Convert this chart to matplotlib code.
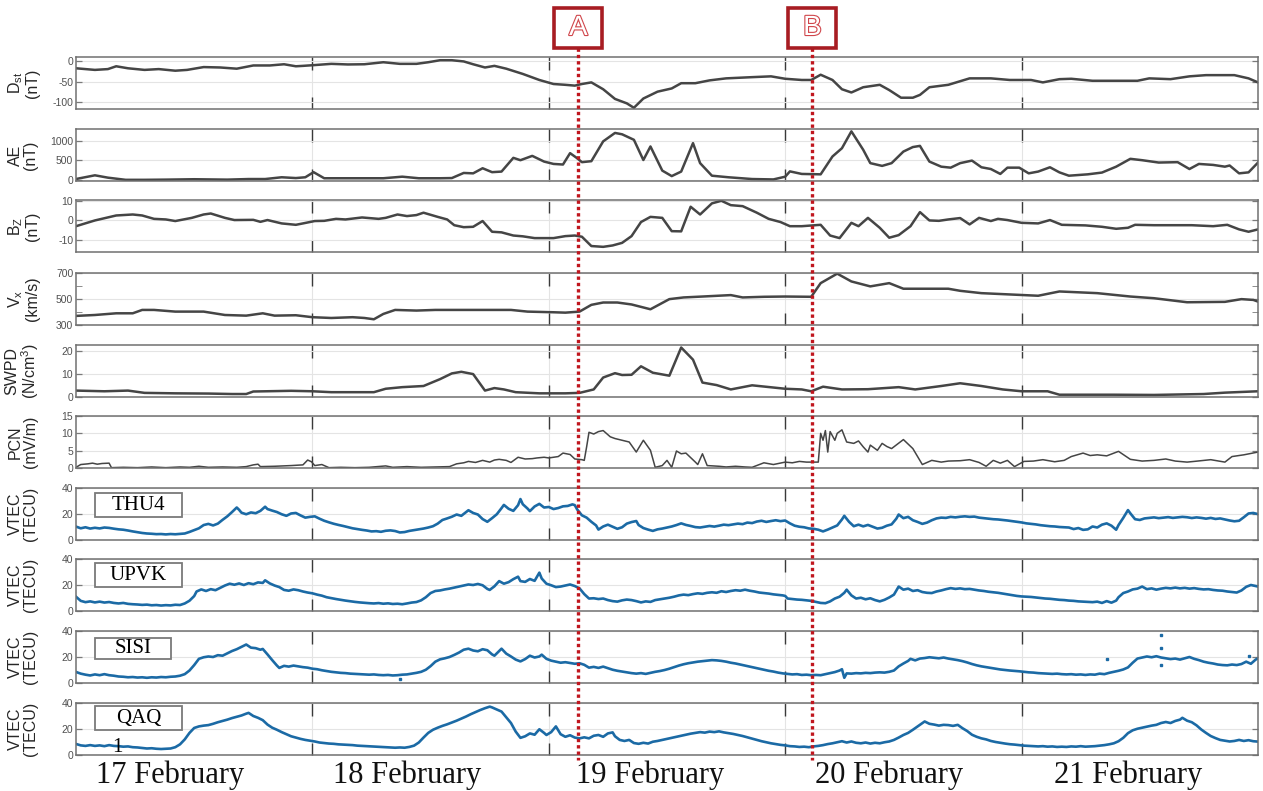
import numpy as np
import matplotlib
matplotlib.use("Agg")
import matplotlib.pyplot as plt
from matplotlib import patheffects, transforms
from matplotlib.lines import Line2D
from matplotlib.patches import Rectangle

plt.rcParams["font.family"] = ["Liberation Sans", "DejaVu Sans"]
plt.rcParams["mathtext.fontset"] = "custom"
plt.rcParams["mathtext.rm"] = "Liberation Sans"
plt.rcParams["axes.unicode_minus"] = False

# time axis: days since 17 February 00 UT
day_labels = ["17 February", "18 February", "19 February", "20 February", "21 February"]
event_names = ["A", "B"]
event_days = [2.125, 3.115]

dst = [(0, -17), (0.08, -21), (0.135, -19), (0.17, -12), (0.22, -17), (0.29, -21), (0.35, -19),
       (0.42, -23), (0.47, -21), (0.54, -14), (0.61, -15), (0.68, -18), (0.75, -10), (0.82, -10),
       (0.88, -7), (0.93, -12), (0.96, -11), (1.01, -9), (1.08, -6), (1.15, -7.5), (1.22, -7),
       (1.30, -2), (1.37, -6), (1.44, -6), (1.49, -2), (1.54, 3), (1.59, 3), (1.64, 0), (1.68, -7),
       (1.73, -15), (1.77, -11), (1.82, -18), (1.89, -31), (1.96, -46), (2.02, -56), (2.07, -58),
       (2.11, -60), (2.14, -56), (2.18, -52), (2.23, -69), (2.28, -93), (2.33, -104), (2.36, -115),
       (2.40, -92), (2.46, -75), (2.52, -67), (2.56, -54), (2.62, -54), (2.68, -47), (2.75, -42),
       (2.86, -39), (2.94, -37), (3.00, -43), (3.07, -46), (3.11, -46), (3.15, -33), (3.20, -46),
       (3.24, -69), (3.28, -77), (3.33, -64), (3.40, -58), (3.44, -71), (3.49, -90), (3.54, -90),
       (3.57, -83), (3.61, -64), (3.69, -58), (3.78, -42), (3.87, -42), (3.95, -46), (4.04, -46),
       (4.09, -52), (4.16, -44), (4.21, -43), (4.30, -48), (4.39, -48), (4.49, -48), (4.54, -42),
       (4.63, -44), (4.71, -37), (4.78, -34), (4.90, -34), (4.96, -42), (5.00, -52)]

ae = [(0, 26), (0.08, 120), (0.135, 60), (0.21, 5), (0.29, 5), (0.38, 10), (0.50, 20), (0.64, 10),
      (0.73, 25), (0.80, 25), (0.87, 70), (0.93, 50), (0.97, 70), (1.005, 200), (1.05, 45),
      (1.17, 45), (1.30, 45), (1.38, 85), (1.45, 45), (1.54, 45), (1.59, 50), (1.64, 180),
      (1.68, 170), (1.72, 300), (1.76, 200), (1.80, 215), (1.85, 565), (1.88, 505), (1.93, 615),
      (1.98, 470), (2.02, 410), (2.06, 395), (2.09, 685), (2.12, 555), (2.14, 455), (2.18, 480),
      (2.23, 985), (2.28, 1200), (2.31, 1165), (2.36, 1025), (2.40, 510), (2.43, 855), (2.48, 240),
      (2.52, 100), (2.56, 215), (2.61, 940), (2.64, 430), (2.69, 110), (2.76, 70), (2.86, 25),
      (2.95, 15), (3.00, 85), (3.02, 220), (3.07, 155), (3.15, 145), (3.20, 600), (3.24, 810),
      (3.28, 1240), (3.33, 770), (3.36, 430), (3.41, 360), (3.45, 430), (3.50, 725), (3.54, 840),
      (3.57, 870), (3.61, 470), (3.66, 340), (3.70, 315), (3.74, 430), (3.79, 495), (3.83, 325),
      (3.87, 280), (3.91, 155), (3.94, 315), (3.99, 315), (4.03, 170), (4.07, 215), (4.12, 325),
      (4.16, 195), (4.20, 110), (4.28, 145), (4.34, 190), (4.40, 340), (4.46, 540), (4.51, 505),
      (4.58, 445), (4.66, 455), (4.71, 280), (4.75, 410), (4.81, 385), (4.86, 340), (4.88, 370),
      (4.92, 170), (4.96, 195), (5.00, 445)]

bz = [(0, -2.9), (0.08, 0), (0.17, 2.5), (0.24, 3), (0.28, 2.5), (0.33, 0.8), (0.38, 0.5),
      (0.42, -0.3), (0.49, 1.3), (0.54, 3), (0.57, 3.5), (0.63, 1.3), (0.67, 0.2), (0.75, 0.3),
      (0.78, -0.7), (0.81, 0.2), (0.87, -1.5), (0.93, -2.2), (0.96, -1.5), (1.01, -0.3),
      (1.05, -0.2), (1.10, 0.8), (1.14, 0.5), (1.21, 1.5), (1.28, 0.8), (1.31, 1.3), (1.36, 3),
      (1.40, 2.2), (1.44, 2.7), (1.47, 3.9), (1.53, 1.8), (1.57, 0.5), (1.60, -2.4), (1.64, -3.4),
      (1.68, -3.2), (1.72, -0.3), (1.76, -5.7), (1.80, -6), (1.85, -7.6), (1.89, -8), (1.94, -8.9),
      (1.98, -8.9), (2.02, -8.9), (2.07, -7.9), (2.11, -7.6), (2.14, -8.2), (2.18, -12.9),
      (2.23, -13.3), (2.27, -12.6), (2.31, -11.3), (2.35, -7.9), (2.39, -0.8), (2.43, 1.8),
      (2.48, 1.3), (2.52, -5.4), (2.56, -5.5), (2.60, 6.9), (2.64, 3), (2.69, 8.6), (2.73, 9.9),
      (2.77, 7.7), (2.82, 7.2), (2.88, 3.9), (2.93, 0.8), (2.98, -0.8), (3.02, -2.9), (3.07, -2.9),
      (3.15, -2.2), (3.19, -7.6), (3.23, -8.9), (3.28, -1.2), (3.31, -2.9), (3.35, 1.3),
      (3.40, -3.7), (3.44, -8.7), (3.48, -7.4), (3.53, -2.9), (3.57, 4.2), (3.61, 0), (3.65, -0.2),
      (3.69, 0.5), (3.74, 1.2), (3.78, -2), (3.82, 1.3), (3.87, -0.3), (3.90, 0.8), (3.94, 0.2),
      (4.00, -1.2), (4.07, -1.5), (4.12, 0.2), (4.17, -2.2), (4.27, -2.5), (4.34, -3.2),
      (4.40, -4.2), (4.45, -3.7), (4.48, -2.2), (4.56, -2.4), (4.72, -2.4), (4.81, -2.9),
      (4.87, -2.2), (4.92, -4.5), (4.96, -5.7), (5.00, -4.5)]

vx = [(0, 370), (0.08, 377), (0.17, 390), (0.24, 390), (0.28, 416), (0.33, 416), (0.42, 403),
      (0.54, 403), (0.63, 377), (0.72, 372), (0.79, 390), (0.84, 372), (0.93, 375), (1.0, 360),
      (1.08, 354), (1.17, 360), (1.22, 354), (1.26, 344), (1.30, 385), (1.35, 416), (1.44, 411),
      (1.52, 416), (1.70, 416), (1.84, 416), (1.91, 403), (2.02, 398), (2.07, 395), (2.13, 403),
      (2.18, 455), (2.23, 473), (2.29, 473), (2.35, 458), (2.43, 421), (2.51, 499), (2.57, 512),
      (2.65, 519), (2.77, 530), (2.82, 512), (2.91, 517), (3.00, 519), (3.11, 517), (3.15, 622),
      (3.22, 695), (3.28, 635), (3.36, 597), (3.44, 622), (3.50, 579), (3.69, 579), (3.74, 563),
      (3.83, 545), (3.95, 535), (4.07, 525), (4.16, 558), (4.32, 545), (4.46, 519), (4.56, 506),
      (4.70, 475), (4.86, 478), (4.93, 499), (4.98, 493), (5.00, 480)]

swpd = [(0, 2.8), (0.12, 2.5), (0.22, 2.8), (0.29, 1.8), (0.42, 1.6), (0.56, 1.5), (0.66, 1.3),
        (0.72, 1.3), (0.75, 2.4), (0.91, 2.7), (1.0, 2.5), (1.08, 2.1), (1.26, 2.1), (1.31, 3.6),
        (1.38, 4.3), (1.47, 4.8), (1.54, 7.8), (1.59, 10.3), (1.63, 11.0), (1.68, 10), (1.73, 2.8),
        (1.77, 3.9), (1.81, 3.3), (1.86, 2.1), (1.96, 1.6), (2.07, 1.6), (2.13, 1.8), (2.19, 3.3),
        (2.23, 8.5), (2.28, 10.4), (2.31, 9.6), (2.35, 9.7), (2.39, 13.4), (2.44, 10.6),
        (2.51, 9.3), (2.56, 21.6), (2.61, 16.3), (2.65, 6.3), (2.71, 5.2), (2.77, 3.3),
        (2.86, 5.1), (3.00, 3.6), (3.07, 3.3), (3.11, 2.5), (3.16, 4.5), (3.24, 3.3), (3.35, 3.4),
        (3.48, 4.3), (3.55, 3.3), (3.66, 4.8), (3.74, 6), (3.83, 4.8), (3.92, 3.3), (4.00, 2.5),
        (4.11, 2.5), (4.16, 1.0), (4.39, 1.0), (4.56, 0.9), (4.77, 1.3), (4.86, 1.9), (5.00, 2.5)]

pcn = [(0, 0.2), (0.02, 1.0), (0.05, 1.2), (0.07, 1.4), (0.09, 1.1), (0.11, 1.3), (0.14, 1.4),
       (0.15, 0.1), (0.20, 0.2), (0.26, 0.1), (0.32, 0.3), (0.38, 0.1), (0.44, 0.3), (0.48, 0.2),
       (0.52, 0.5), (0.56, 0.2), (0.62, 0.3), (0.68, 0.2), (0.72, 0.4), (0.75, 0.9), (0.77, 1.1),
       (0.78, 0.4), (0.84, 0.5), (0.91, 0.7), (0.96, 0.9), (0.98, 2.3), (0.996, 1.8), (1.01, 0.7),
       (1.04, 1.0), (1.07, 0.1), (1.12, 0.2), (1.18, 0.1), (1.24, 0.2), (1.31, 0.6), (1.34, 0.2),
       (1.40, 0.4), (1.46, 0.2), (1.52, 0.3), (1.58, 0.4), (1.61, 1.2), (1.64, 1.5), (1.66, 1.9),
       (1.69, 1.6), (1.72, 2.2), (1.75, 1.7), (1.77, 2.3), (1.79, 2.5), (1.82, 2.2), (1.84, 1.6),
       (1.87, 3.1), (1.90, 2.6), (1.93, 2.7), (1.95, 2.9), (1.98, 3.1), (2.00, 2.9), (2.04, 3.3),
       (2.06, 4.3), (2.09, 3.9), (2.11, 2.6), (2.14, 2.4), (2.15, 2.2), (2.16, 6.1), (2.17, 10.3),
       (2.19, 9.8), (2.21, 10.5), (2.23, 10.8), (2.24, 10.2), (2.26, 9.0), (2.28, 8.5),
       (2.31, 8.0), (2.34, 7.5), (2.37, 4.6), (2.40, 8.0), (2.43, 5.1), (2.45, 0.2), (2.48, 0.7),
       (2.50, 2.2), (2.52, 0.2), (2.54, 4.9), (2.56, 4.1), (2.58, 4.3), (2.62, 1.7), (2.63, 1.0),
       (2.65, 4.1), (2.67, 0.7), (2.72, 0.5), (2.75, 0.3), (2.79, 0.5), (2.83, 0.3), (2.86, 0.2),
       (2.91, 1.5), (2.95, 1.0), (3.00, 1.7), (3.03, 1.5), (3.06, 1.9), (3.09, 1.7), (3.14, 1.7),
       (3.15, 10), (3.16, 8), (3.17, 10.8), (3.18, 4.6), (3.19, 10.5), (3.21, 8), (3.22, 10),
       (3.24, 11), (3.26, 7.5), (3.29, 7.1), (3.31, 7.8), (3.33, 6.1), (3.35, 4.6), (3.36, 6.6),
       (3.39, 5.1), (3.41, 7.1), (3.43, 6.2), (3.45, 5.6), (3.50, 8.2), (3.54, 5.6), (3.58, 1.0),
       (3.62, 2.2), (3.66, 1.7), (3.69, 2.0), (3.74, 2.1), (3.78, 2.4), (3.82, 1.6), (3.85, 0.5),
       (3.88, 2.2), (3.91, 1.4), (3.94, 2.2), (3.97, 0.4), (4.01, 1.9), (4.05, 2.0), (4.09, 2.4),
       (4.14, 1.8), (4.18, 2.2), (4.21, 3.3), (4.26, 4.3), (4.29, 3.6), (4.32, 3.8), (4.36, 3.5),
       (4.41, 4.8), (4.46, 2.5), (4.51, 2.0), (4.56, 2.2), (4.61, 2.6), (4.65, 2.0), (4.70, 1.7),
       (4.73, 1.9), (4.80, 2.4), (4.86, 1.7), (4.89, 3.3), (4.94, 3.8), (4.97, 4.2), (5.00, 4.6)]

thu4 = [(0.00, 10.3), (0.02, 9.0), (0.04, 9.8), (0.06, 8.8), (0.08, 9.4), (0.10, 8.9), (0.12, 9.6),
        (0.14, 9.3), (0.16, 8.7), (0.18, 8.2), (0.20, 7.9), (0.22, 7.3), (0.24, 6.6), (0.26, 6.0),
        (0.28, 5.4), (0.30, 5.0), (0.32, 4.8), (0.34, 4.5), (0.36, 4.6), (0.38, 4.3), (0.40, 4.6),
        (0.42, 4.4), (0.44, 4.7), (0.46, 5.0), (0.48, 6.2), (0.50, 7.6), (0.52, 9.0), (0.54, 11.5),
        (0.56, 12.4), (0.58, 11.2), (0.60, 12.6), (0.62, 15.5), (0.64, 18.2), (0.66, 21.5),
        (0.68, 25.0), (0.69, 23.2), (0.70, 21.0), (0.72, 19.8), (0.74, 21.2), (0.76, 20.6),
        (0.78, 22.4), (0.80, 25.6), (0.81, 23.8), (0.83, 22.6), (0.85, 21.5), (0.87, 19.8),
        (0.89, 18.6), (0.91, 20.4), (0.93, 20.8), (0.95, 18.9), (0.97, 17.2), (0.99, 17.8),
        (1.01, 18.2), (1.03, 16.4), (1.05, 14.8), (1.07, 13.6), (1.09, 12.5), (1.11, 11.6),
        (1.13, 10.8), (1.15, 9.9), (1.17, 9.0), (1.19, 8.4), (1.21, 7.8), (1.23, 7.3), (1.25, 6.6),
        (1.27, 6.8), (1.29, 6.3), (1.31, 7.1), (1.33, 7.4), (1.35, 6.9), (1.37, 5.8), (1.39, 6.1),
        (1.41, 7.0), (1.43, 7.6), (1.45, 8.2), (1.47, 8.8), (1.49, 9.6), (1.51, 10.6), (1.53, 12.6),
        (1.55, 15.4), (1.57, 16.6), (1.59, 17.9), (1.61, 19.6), (1.63, 18.6), (1.65, 21.4),
        (1.66, 22.9), (1.68, 20.8), (1.70, 19.6), (1.72, 16.1), (1.74, 14.0), (1.76, 16.8),
        (1.78, 19.8), (1.80, 24.5), (1.81, 27.0), (1.83, 24.0), (1.85, 22.4), (1.87, 26.8),
        (1.88, 31.5), (1.89, 27.5), (1.91, 24.2), (1.92, 22.2), (1.94, 25.8), (1.96, 27.8),
        (1.98, 25.0), (2.00, 25.4), (2.02, 23.8), (2.04, 24.6), (2.06, 25.9), (2.08, 26.2),
        (2.10, 27.4), (2.11, 26.8), (2.12, 23.5), (2.14, 19.0), (2.16, 17.2), (2.18, 14.0),
        (2.20, 11.2), (2.21, 8.0), (2.23, 10.4), (2.25, 11.8), (2.27, 10.2), (2.29, 8.6),
        (2.31, 9.8), (2.33, 12.6), (2.35, 13.8), (2.37, 14.6), (2.38, 11.5), (2.40, 9.2),
        (2.42, 8.0), (2.44, 7.0), (2.46, 8.2), (2.48, 8.8), (2.50, 9.6), (2.52, 10.4), (2.54, 11.5),
        (2.56, 12.8), (2.58, 11.6), (2.60, 10.8), (2.62, 9.9), (2.64, 9.6), (2.66, 10.2),
        (2.68, 10.8), (2.70, 10.3), (2.72, 11.0), (2.74, 11.8), (2.76, 11.4), (2.78, 12.0),
        (2.80, 12.6), (2.82, 12.2), (2.84, 13.4), (2.86, 13.0), (2.88, 14.2), (2.90, 14.8),
        (2.92, 13.9), (2.94, 14.6), (2.96, 15.2), (2.98, 14.5), (3.00, 15.0), (3.02, 12.8),
        (3.04, 11.0), (3.06, 10.2), (3.08, 9.8), (3.10, 8.9), (3.12, 8.6), (3.14, 7.9), (3.16, 6.6),
        (3.18, 8.0), (3.20, 9.6), (3.22, 11.2), (3.24, 15.8), (3.25, 18.6), (3.27, 14.0),
        (3.29, 10.6), (3.31, 11.8), (3.33, 10.5), (3.35, 11.6), (3.37, 10.2), (3.39, 8.8),
        (3.41, 9.4), (3.43, 11.0), (3.45, 12.0), (3.47, 16.4), (3.48, 19.6), (3.50, 16.8),
        (3.52, 17.8), (3.54, 15.2), (3.56, 13.9), (3.58, 12.4), (3.60, 13.4), (3.62, 15.2),
        (3.64, 16.6), (3.66, 17.2), (3.68, 17.0), (3.70, 17.8), (3.72, 17.4), (3.74, 17.9),
        (3.76, 18.2), (3.78, 17.8), (3.80, 18.0), (3.82, 17.2), (3.84, 16.8), (3.86, 16.4),
        (3.88, 16.0), (3.90, 15.8), (3.92, 15.4), (3.94, 15.0), (3.96, 14.5), (3.98, 14.0),
        (4.00, 13.5), (4.02, 12.8), (4.04, 12.4), (4.06, 12.0), (4.08, 11.4), (4.10, 11.0),
        (4.12, 10.6), (4.14, 10.4), (4.16, 10.0), (4.18, 9.8), (4.20, 9.6), (4.22, 8.4), (4.24, 9.2),
        (4.26, 7.8), (4.28, 8.2), (4.30, 10.4), (4.32, 9.6), (4.34, 11.8), (4.36, 12.8),
        (4.38, 11.0), (4.40, 7.9), (4.41, 11.5), (4.43, 17.0), (4.45, 23.0), (4.46, 20.5),
        (4.48, 16.0), (4.50, 15.4), (4.52, 16.6), (4.54, 17.0), (4.56, 17.4), (4.58, 16.8),
        (4.60, 17.2), (4.62, 17.6), (4.64, 17.0), (4.66, 17.4), (4.68, 17.8), (4.70, 17.5),
        (4.72, 16.9), (4.74, 17.4), (4.76, 17.0), (4.78, 16.4), (4.80, 17.0), (4.82, 16.2),
        (4.84, 16.6), (4.86, 15.8), (4.88, 15.0), (4.90, 14.4), (4.92, 14.8), (4.94, 17.5),
        (4.96, 20.4), (4.98, 20.8), (5.00, 19.9)]

upvk = [(0.00, 11.0), (0.02, 7.8), (0.04, 6.8), (0.06, 7.4), (0.08, 6.6), (0.10, 7.2), (0.12, 6.5),
        (0.14, 6.9), (0.16, 6.2), (0.18, 5.8), (0.20, 6.2), (0.22, 5.5), (0.24, 5.2), (0.26, 5.0),
        (0.28, 4.7), (0.30, 4.9), (0.32, 4.4), (0.34, 4.6), (0.36, 4.2), (0.38, 4.5), (0.40, 4.3),
        (0.42, 4.8), (0.44, 4.6), (0.46, 5.8), (0.48, 7.9), (0.50, 11.5), (0.51, 15.0),
        (0.53, 16.6), (0.55, 15.4), (0.57, 16.8), (0.59, 16.0), (0.61, 17.8), (0.63, 19.6),
        (0.65, 21.0), (0.67, 20.2), (0.69, 21.2), (0.71, 20.0), (0.73, 21.4), (0.75, 20.6),
        (0.77, 22.0), (0.79, 21.6), (0.80, 23.6), (0.82, 21.2), (0.84, 19.6), (0.86, 18.4),
        (0.88, 16.2), (0.90, 15.6), (0.92, 16.6), (0.94, 16.0), (0.96, 15.0), (0.98, 14.2),
        (1.00, 13.6), (1.02, 12.6), (1.04, 11.8), (1.06, 10.6), (1.08, 9.9), (1.10, 9.2),
        (1.12, 8.6), (1.14, 8.0), (1.16, 7.5), (1.18, 7.0), (1.20, 6.6), (1.22, 6.3), (1.24, 6.0),
        (1.26, 5.8), (1.28, 6.1), (1.30, 5.6), (1.32, 5.9), (1.34, 5.4), (1.36, 5.6), (1.38, 5.2),
        (1.40, 5.8), (1.42, 6.5), (1.44, 6.9), (1.46, 8.2), (1.48, 10.6), (1.50, 13.8),
        (1.52, 15.4), (1.54, 15.8), (1.56, 16.6), (1.58, 17.2), (1.60, 18.0), (1.62, 18.8),
        (1.64, 19.6), (1.66, 20.4), (1.68, 20.0), (1.70, 20.8), (1.72, 19.8), (1.74, 17.0),
        (1.75, 16.2), (1.77, 19.0), (1.79, 23.0), (1.81, 21.0), (1.83, 22.2), (1.85, 24.5),
        (1.87, 26.4), (1.88, 23.0), (1.90, 22.4), (1.92, 24.6), (1.94, 23.2), (1.96, 29.5),
        (1.97, 25.0), (1.99, 21.0), (2.01, 19.8), (2.03, 18.4), (2.05, 18.8), (2.07, 19.6),
        (2.09, 20.4), (2.11, 19.2), (2.13, 17.4), (2.15, 13.0), (2.17, 9.6), (2.19, 9.8),
        (2.21, 9.2), (2.23, 9.6), (2.25, 8.4), (2.27, 7.6), (2.29, 7.2), (2.31, 8.2), (2.33, 8.8),
        (2.35, 8.4), (2.37, 7.6), (2.39, 6.6), (2.41, 7.4), (2.43, 7.0), (2.45, 8.4), (2.47, 9.0),
        (2.49, 9.6), (2.51, 10.2), (2.53, 11.0), (2.55, 12.0), (2.57, 12.6), (2.59, 12.2),
        (2.61, 13.0), (2.63, 13.6), (2.65, 13.2), (2.67, 14.0), (2.69, 14.4), (2.71, 14.0),
        (2.73, 15.2), (2.75, 14.6), (2.77, 15.4), (2.79, 16.0), (2.81, 15.6), (2.83, 16.4),
        (2.85, 15.6), (2.87, 15.0), (2.89, 14.2), (2.91, 13.8), (2.93, 13.4), (2.95, 12.8),
        (2.97, 12.4), (2.99, 12.0), (3.00, 11.6), (3.01, 9.6), (3.03, 9.2), (3.05, 8.8),
        (3.07, 8.6), (3.09, 8.2), (3.11, 7.8), (3.13, 7.0), (3.15, 6.2), (3.17, 6.0), (3.19, 7.4),
        (3.21, 9.6), (3.23, 11.0), (3.25, 14.0), (3.26, 16.4), (3.28, 12.0), (3.30, 9.6),
        (3.32, 10.2), (3.34, 9.0), (3.36, 9.8), (3.38, 8.4), (3.40, 7.4), (3.42, 8.6), (3.44, 10.4),
        (3.46, 12.6), (3.48, 18.8), (3.50, 16.4), (3.52, 17.2), (3.54, 15.4), (3.56, 16.0),
        (3.58, 14.6), (3.60, 14.0), (3.62, 13.8), (3.64, 15.0), (3.66, 15.8), (3.68, 16.8),
        (3.70, 17.6), (3.72, 17.0), (3.74, 17.4), (3.76, 16.8), (3.78, 17.0), (3.80, 16.4),
        (3.82, 15.8), (3.84, 15.4), (3.86, 14.8), (3.88, 14.4), (3.90, 14.0), (3.92, 13.4),
        (3.94, 12.8), (3.96, 12.2), (3.98, 11.6), (4.00, 11.2), (4.02, 11.0), (4.04, 10.8),
        (4.06, 10.4), (4.08, 10.0), (4.10, 9.6), (4.12, 9.4), (4.14, 9.0), (4.16, 8.6), (4.18, 8.4),
        (4.20, 8.0), (4.22, 7.8), (4.24, 7.4), (4.26, 7.2), (4.28, 7.0), (4.30, 6.8), (4.32, 7.2),
        (4.34, 6.2), (4.36, 7.6), (4.38, 6.4), (4.40, 8.0), (4.41, 10.6), (4.43, 13.8),
        (4.45, 15.0), (4.47, 16.6), (4.49, 17.2), (4.51, 18.8), (4.53, 16.8), (4.55, 17.4),
        (4.57, 16.4), (4.59, 17.2), (4.61, 17.8), (4.63, 17.4), (4.65, 18.0), (4.67, 17.4),
        (4.69, 17.8), (4.71, 17.2), (4.73, 17.6), (4.75, 17.0), (4.77, 16.6), (4.79, 16.8),
        (4.81, 16.2), (4.83, 15.8), (4.85, 15.6), (4.87, 15.0), (4.89, 14.6), (4.91, 14.2),
        (4.93, 15.8), (4.95, 18.6), (4.97, 20.0), (4.99, 19.2), (5.00, 18.8)]

sisi = [(0.00, 8.5), (0.02, 7.2), (0.04, 6.4), (0.06, 5.8), (0.08, 6.6), (0.10, 6.0), (0.12, 6.8),
        (0.14, 6.0), (0.16, 5.6), (0.18, 5.0), (0.20, 4.8), (0.22, 4.4), (0.24, 4.6), (0.26, 4.2),
        (0.28, 4.4), (0.30, 4.0), (0.32, 4.4), (0.34, 4.2), (0.36, 4.6), (0.38, 4.4), (0.40, 4.8),
        (0.42, 5.0), (0.44, 5.6), (0.46, 6.8), (0.48, 9.6), (0.50, 13.8), (0.52, 18.6),
        (0.54, 19.8), (0.56, 20.4), (0.58, 20.0), (0.60, 21.4), (0.62, 21.0), (0.64, 22.8),
        (0.66, 24.6), (0.68, 26.0), (0.70, 27.8), (0.72, 29.6), (0.74, 27.2), (0.76, 26.8),
        (0.78, 25.6), (0.79, 26.2), (0.81, 22.0), (0.83, 17.6), (0.85, 13.4), (0.86, 11.6),
        (0.88, 13.2), (0.90, 12.6), (0.92, 13.4), (0.94, 12.8), (0.96, 12.2), (0.98, 11.8),
        (1.00, 11.0), (1.02, 10.6), (1.04, 9.8), (1.06, 9.2), (1.08, 8.6), (1.10, 8.2), (1.12, 7.8),
        (1.14, 7.6), (1.16, 7.2), (1.18, 7.0), (1.20, 6.8), (1.22, 6.6), (1.24, 6.4), (1.26, 6.6),
        (1.28, 6.2), (1.30, 6.0), (1.32, 6.2), (1.34, 5.8), (1.36, 6.0), (1.38, 6.4), (1.40, 6.6),
        (1.42, 7.2), (1.44, 7.8), (1.46, 8.6), (1.48, 10.2), (1.50, 13.0), (1.52, 16.4),
        (1.54, 18.2), (1.56, 19.0), (1.58, 20.0), (1.60, 21.6), (1.62, 23.4), (1.64, 25.6),
        (1.66, 26.4), (1.68, 25.0), (1.70, 24.4), (1.72, 26.0), (1.74, 25.2), (1.76, 22.0),
        (1.77, 21.0), (1.79, 24.6), (1.80, 26.4), (1.82, 22.6), (1.84, 20.4), (1.86, 18.0),
        (1.88, 16.6), (1.90, 18.4), (1.92, 21.0), (1.94, 19.6), (1.96, 20.4), (1.97, 21.8),
        (1.99, 18.6), (2.01, 17.2), (2.03, 16.4), (2.05, 15.6), (2.07, 16.0), (2.09, 15.4),
        (2.11, 14.8), (2.13, 15.2), (2.15, 14.0), (2.17, 11.8), (2.19, 12.4), (2.21, 11.6),
        (2.23, 12.6), (2.25, 11.4), (2.27, 10.2), (2.29, 9.4), (2.31, 8.8), (2.33, 8.2),
        (2.35, 7.6), (2.37, 7.2), (2.39, 7.6), (2.41, 7.0), (2.43, 7.8), (2.45, 8.6), (2.47, 9.2),
        (2.49, 10.0), (2.51, 11.0), (2.53, 12.2), (2.55, 13.4), (2.57, 14.4), (2.59, 15.2),
        (2.61, 15.8), (2.63, 16.4), (2.65, 16.8), (2.67, 17.2), (2.69, 17.6), (2.71, 17.4),
        (2.73, 17.0), (2.75, 16.4), (2.77, 15.6), (2.79, 15.0), (2.81, 14.2), (2.83, 13.4),
        (2.85, 12.6), (2.87, 11.8), (2.89, 11.0), (2.91, 10.2), (2.93, 9.4), (2.95, 8.8),
        (2.97, 8.0), (2.99, 7.4), (3.01, 7.0), (3.03, 6.6), (3.05, 6.8), (3.07, 6.2), (3.09, 6.4),
        (3.11, 6.0), (3.13, 6.2), (3.15, 6.0), (3.17, 6.8), (3.19, 7.6), (3.21, 8.4), (3.23, 9.6),
        (3.24, 10.6), (3.25, 4.0), (3.26, 7.4), (3.28, 7.2), (3.30, 7.6), (3.32, 7.4), (3.34, 7.8),
        (3.36, 7.6), (3.38, 8.0), (3.40, 8.2), (3.42, 8.0), (3.44, 8.6), (3.46, 9.6), (3.48, 12.8),
        (3.50, 15.0), (3.52, 17.0), (3.53, 18.6), (3.55, 17.4), (3.57, 18.8), (3.59, 19.2),
        (3.61, 19.8), (3.63, 19.4), (3.65, 19.0), (3.67, 19.6), (3.69, 18.8), (3.71, 18.2),
        (3.73, 17.6), (3.75, 16.8), (3.77, 15.8), (3.79, 14.6), (3.81, 13.6), (3.83, 12.8),
        (3.85, 12.2), (3.87, 11.6), (3.89, 11.0), (3.91, 10.4), (3.93, 10.0), (3.95, 9.6),
        (3.97, 9.3), (3.99, 9.0), (4.01, 8.6), (4.03, 8.2), (4.05, 8.0), (4.07, 7.6), (4.09, 7.4),
        (4.11, 7.2), (4.13, 7.0), (4.15, 7.2), (4.17, 6.8), (4.19, 6.6), (4.21, 6.8), (4.23, 6.4),
        (4.25, 6.6), (4.27, 6.2), (4.29, 6.6), (4.31, 6.4), (4.33, 7.2), (4.35, 6.8), (4.37, 7.8),
        (4.39, 8.6), (4.41, 9.4), (4.43, 10.4), (4.45, 12.0), (4.47, 15.6), (4.49, 18.8),
        (4.51, 19.6), (4.53, 20.4), (4.55, 19.8), (4.57, 20.6), (4.59, 19.6), (4.61, 19.0),
        (4.63, 18.4), (4.65, 18.8), (4.67, 18.0), (4.69, 19.0), (4.71, 20.0), (4.73, 18.6),
        (4.75, 17.6), (4.77, 16.4), (4.79, 15.6), (4.81, 15.0), (4.83, 14.2), (4.85, 13.8),
        (4.87, 13.6), (4.89, 14.2), (4.91, 13.8), (4.93, 14.6), (4.95, 16.4), (4.97, 14.8),
        (4.99, 18.0), (5.00, 19.0)]
sisi_outliers = [(1.37, 3.4), (4.36, 18.8), (4.59, 37), (4.59, 27), (4.59, 13.7), (4.96, 21)]

qaq1 = [(0.00, 8.5), (0.02, 7.4), (0.04, 7.0), (0.06, 7.6), (0.08, 7.0), (0.10, 7.4), (0.12, 6.8),
        (0.14, 7.6), (0.16, 7.0), (0.18, 6.8), (0.20, 6.4), (0.22, 6.6), (0.24, 6.0), (0.26, 5.8),
        (0.28, 5.4), (0.30, 5.0), (0.32, 5.2), (0.34, 4.8), (0.36, 4.6), (0.38, 4.8), (0.40, 5.0),
        (0.42, 6.0), (0.44, 8.2), (0.46, 12.0), (0.48, 17.0), (0.50, 20.8), (0.52, 22.0),
        (0.54, 22.6), (0.56, 23.0), (0.58, 24.0), (0.60, 25.2), (0.62, 26.2), (0.64, 27.2),
        (0.66, 28.4), (0.68, 29.4), (0.70, 30.4), (0.72, 31.8), (0.73, 32.4), (0.75, 30.0),
        (0.77, 28.6), (0.79, 26.8), (0.81, 23.4), (0.83, 21.0), (0.85, 19.4), (0.87, 17.6),
        (0.89, 16.0), (0.91, 14.4), (0.93, 13.4), (0.95, 12.4), (0.97, 11.6), (0.99, 11.0),
        (1.01, 10.4), (1.03, 9.6), (1.05, 9.2), (1.07, 8.8), (1.09, 8.6), (1.11, 8.2), (1.13, 8.0),
        (1.15, 7.8), (1.17, 7.6), (1.19, 7.2), (1.21, 7.0), (1.23, 6.8), (1.25, 6.6), (1.27, 6.4),
        (1.29, 6.2), (1.31, 6.0), (1.33, 5.8), (1.35, 5.6), (1.37, 5.8), (1.39, 5.6), (1.41, 6.2),
        (1.43, 7.2), (1.45, 9.6), (1.47, 13.4), (1.49, 17.0), (1.51, 19.4), (1.53, 21.0),
        (1.55, 22.4), (1.57, 23.6), (1.59, 25.0), (1.61, 26.4), (1.63, 28.0), (1.65, 29.6),
        (1.67, 31.4), (1.69, 33.0), (1.71, 34.6), (1.73, 36.0), (1.75, 37.2), (1.76, 36.6),
        (1.78, 35.0), (1.80, 33.4), (1.82, 29.0), (1.84, 24.6), (1.86, 18.0), (1.88, 13.2),
        (1.90, 14.4), (1.92, 16.6), (1.94, 15.6), (1.96, 19.8), (1.98, 17.0), (1.99, 15.4),
        (2.01, 17.6), (2.03, 22.0), (2.05, 16.0), (2.07, 14.0), (2.09, 15.2), (2.11, 13.4),
        (2.13, 12.8), (2.15, 13.6), (2.17, 12.8), (2.19, 14.8), (2.21, 15.4), (2.23, 14.0),
        (2.25, 16.6), (2.27, 17.4), (2.28, 14.4), (2.30, 11.6), (2.32, 10.8), (2.34, 11.6),
        (2.36, 9.2), (2.38, 8.6), (2.40, 9.4), (2.42, 8.8), (2.44, 10.2), (2.46, 10.8),
        (2.48, 11.6), (2.50, 12.4), (2.52, 13.2), (2.54, 14.0), (2.56, 14.8), (2.58, 15.6),
        (2.60, 16.4), (2.62, 17.0), (2.64, 17.6), (2.66, 17.2), (2.68, 18.0), (2.70, 17.6),
        (2.72, 18.2), (2.74, 17.4), (2.76, 16.8), (2.78, 16.2), (2.80, 15.4), (2.82, 14.6),
        (2.84, 13.6), (2.86, 12.6), (2.88, 11.6), (2.90, 10.6), (2.92, 9.8), (2.94, 9.0),
        (2.96, 8.4), (2.98, 7.8), (3.00, 7.4), (3.02, 6.8), (3.04, 6.6), (3.06, 6.2), (3.08, 6.4),
        (3.10, 6.0), (3.12, 6.6), (3.14, 7.0), (3.16, 7.6), (3.18, 8.4), (3.20, 9.0), (3.22, 9.8),
        (3.24, 10.6), (3.26, 9.6), (3.28, 10.4), (3.30, 9.4), (3.32, 9.0), (3.34, 9.6), (3.36, 8.8),
        (3.38, 9.4), (3.40, 9.0), (3.42, 9.8), (3.44, 10.4), (3.46, 11.6), (3.48, 13.4),
        (3.50, 15.4), (3.52, 17.0), (3.54, 19.4), (3.56, 22.0), (3.58, 24.6), (3.59, 25.8),
        (3.61, 24.0), (3.63, 23.4), (3.65, 22.6), (3.67, 23.2), (3.69, 23.0), (3.71, 22.4),
        (3.73, 23.2), (3.75, 20.6), (3.77, 18.4), (3.79, 15.6), (3.81, 14.0), (3.83, 12.8),
        (3.85, 12.0), (3.87, 10.8), (3.89, 10.0), (3.91, 9.4), (3.93, 8.8), (3.95, 8.3),
        (3.97, 8.0), (3.99, 7.6), (4.01, 7.2), (4.03, 7.0), (4.05, 6.8), (4.07, 6.6), (4.09, 6.8),
        (4.11, 6.4), (4.13, 6.6), (4.15, 6.2), (4.17, 6.4), (4.19, 6.2), (4.21, 6.6), (4.23, 6.4),
        (4.25, 6.8), (4.27, 6.4), (4.29, 6.6), (4.31, 6.8), (4.33, 7.2), (4.35, 7.6), (4.37, 8.2),
        (4.39, 9.0), (4.41, 10.6), (4.43, 13.2), (4.45, 16.8), (4.47, 19.0), (4.49, 20.2),
        (4.51, 21.0), (4.53, 21.8), (4.55, 22.6), (4.57, 23.2), (4.59, 24.6), (4.61, 25.4),
        (4.63, 24.6), (4.65, 26.2), (4.67, 27.2), (4.68, 28.6), (4.70, 26.4), (4.72, 25.2),
        (4.74, 22.8), (4.76, 19.6), (4.78, 17.0), (4.80, 14.6), (4.82, 13.0), (4.84, 11.6),
        (4.86, 11.0), (4.88, 10.4), (4.90, 10.8), (4.92, 11.6), (4.94, 10.8), (4.96, 11.4),
        (4.98, 10.6), (5.00, 10.3)]

DARK = "#454545"
BLUE = "#1b6aa5"
RED = "#c0161e"

panels = [
    (dst, r"D$_{\mathrm{st}}$" + "\n(nT)", (-118, 11), [-100, -50, 0], DARK, 1.8),
    (ae, "AE\n(nT)", (-25, 1300), [0, 500, 1000], DARK, 1.8),
    (bz, r"B$_{\mathrm{Z}}$" + "\n(nT)", (-15.9, 10.3), [-10, 0, 10], DARK, 1.8),
    (vx, r"V$_{\mathrm{x}}$" + "\n(km/s)", (300, 700), [300, 500, 700], DARK, 1.8),
    (swpd, "SWPD\n" + r"(N/cm$^{\mathrm{3}}$)", (0, 22.7), [0, 10, 20], DARK, 1.8),
    (pcn, "PCN\n(mV/m)", (0, 15), [0, 5, 10, 15], DARK, 1.1),
    (thu4, "VTEC\n(TECU)", (0, 40), [0, 20, 40], BLUE, 1.9),
    (upvk, "VTEC\n(TECU)", (0, 40), [0, 20, 40], BLUE, 1.9),
    (sisi, "VTEC\n(TECU)", (0, 40), [0, 20, 40], BLUE, 1.9),
    (qaq1, "VTEC\n(TECU)", (0, 40), [0, 20, 40], BLUE, 1.9),
]
stations = {6: "THU4", 7: "UPVK", 8: "SISI", 9: "QAQ"}

W, H = 1263, 791
fig = plt.figure(figsize=(W / 100, H / 100), dpi=100)

left, right = 76, 1258
tops = [57, 129, 200, 273, 345, 416, 488, 559, 631, 703]
ph = 52

axes = []
for i, (series, label, ylim, yticks, color, lw) in enumerate(panels):
    top = tops[i]
    ax = fig.add_axes([left / W, 1 - (top + ph) / H, (right - left) / W, ph / H])
    arr = np.array(series, dtype=float)
    ax.plot(arr[:, 0], arr[:, 1], color=color, lw=lw, solid_joinstyle="round")
    if series is sisi:
        out = np.array(sisi_outliers)
        ax.plot(out[:, 0], out[:, 1], ls="none", marker="s", ms=1.8, color=BLUE)
    ax.set_xlim(0, 5)
    ax.set_ylim(*ylim)
    ax.set_yticks(yticks)
    ax.set_yticklabels([str(t) for t in yticks])
    if i == 3:
        ax.set_yticks([400, 600], minor=True)
        ax.tick_params(axis="y", which="minor", direction="in", length=4, color="#7a7a7a",
                       left=True, right=True)
    ax.set_xticks([1, 2, 3, 4])
    ax.set_xticklabels([])
    ax.tick_params(axis="x", which="major", direction="in", length=9, width=1.0, color="#3a3a3a",
                   top=True, bottom=True)
    ax.tick_params(axis="y", which="major", direction="in", length=4, width=0.9, color="#7a7a7a",
                   left=True, right=True, labelsize=7.5, labelcolor="#505050", pad=2)
    ax.grid(True, which="major", color="#e4e4e4", lw=0.8)
    ax.set_axisbelow(True)
    for sp in ax.spines.values():
        sp.set_color("#707070")
        sp.set_linewidth(1.1)
    fig.text(23 / W, 1 - (top + ph / 2) / H, label, rotation=90, ha="center", va="center",
             multialignment="center", fontsize=11.5, color="#262626", linespacing=1.0)
    if i in stations:
        box_top = {6: 5, 7: 4, 8: 7, 9: 3}[i]
        box_h = {6: 24, 7: 24, 8: 21, 9: 24}[i]
        box_w = {6: 87, 7: 87, 8: 76, 9: 87}[i]
        x0 = (95 - left) / (right - left)
        y0 = 1 - (box_top + box_h) / ph
        ax.add_patch(Rectangle((x0, y0), box_w / (right - left), box_h / ph,
                               transform=ax.transAxes, facecolor="white", edgecolor="#7a7a7a",
                               lw=1.3, zorder=5))
        ax.text(x0 + box_w / 2 / (right - left), y0 + box_h / 2 / ph, stations[i],
                transform=ax.transAxes, ha="center", va="center", fontsize=15,
                family="Liberation Serif", zorder=6)
        if i == 9:
            ax.text((117 - left) / (right - left), 1 - 45 / ph, "1", transform=ax.transAxes,
                    ha="center", va="center", fontsize=15, family="Liberation Serif", zorder=6)
    axes.append(ax)

bottom_ax = axes[-1]
trans = transforms.blended_transform_factory(bottom_ax.transData, fig.transFigure)
label_pos = [0.40, 1.40, 2.43, 3.44, 4.45]
for xp, txt in zip(label_pos, day_labels):
    bottom_ax.text(xp, 1 - 775 / H, txt, transform=trans, ha="center", va="center",
                   fontsize=22, family="Liberation Serif", color="#111111")

# event markers
box_w_days = 48 / ((right - left) / 5)
for name, t in zip(event_names, event_days):
    fig.add_artist(Line2D([t, t], [1 - 48 / H, 1 - 760 / H], transform=trans, color=RED,
                          lw=2.4, ls=(0, (1.0, 0.9)), zorder=10))
    fig.add_artist(Rectangle((t - box_w_days / 2, 1 - 48 / H), box_w_days, 40 / H,
                             transform=trans, facecolor="white", edgecolor="#a81c22", lw=2.6,
                             zorder=11))
    txt = fig.text(t, 1 - 28 / H, name, transform=trans, ha="center", va="center",
                   fontsize=20, color="white", zorder=12)
    txt.set_path_effects([patheffects.withStroke(linewidth=1.6, foreground="#d0464b")])

fig.savefig("out.png", dpi=100)
